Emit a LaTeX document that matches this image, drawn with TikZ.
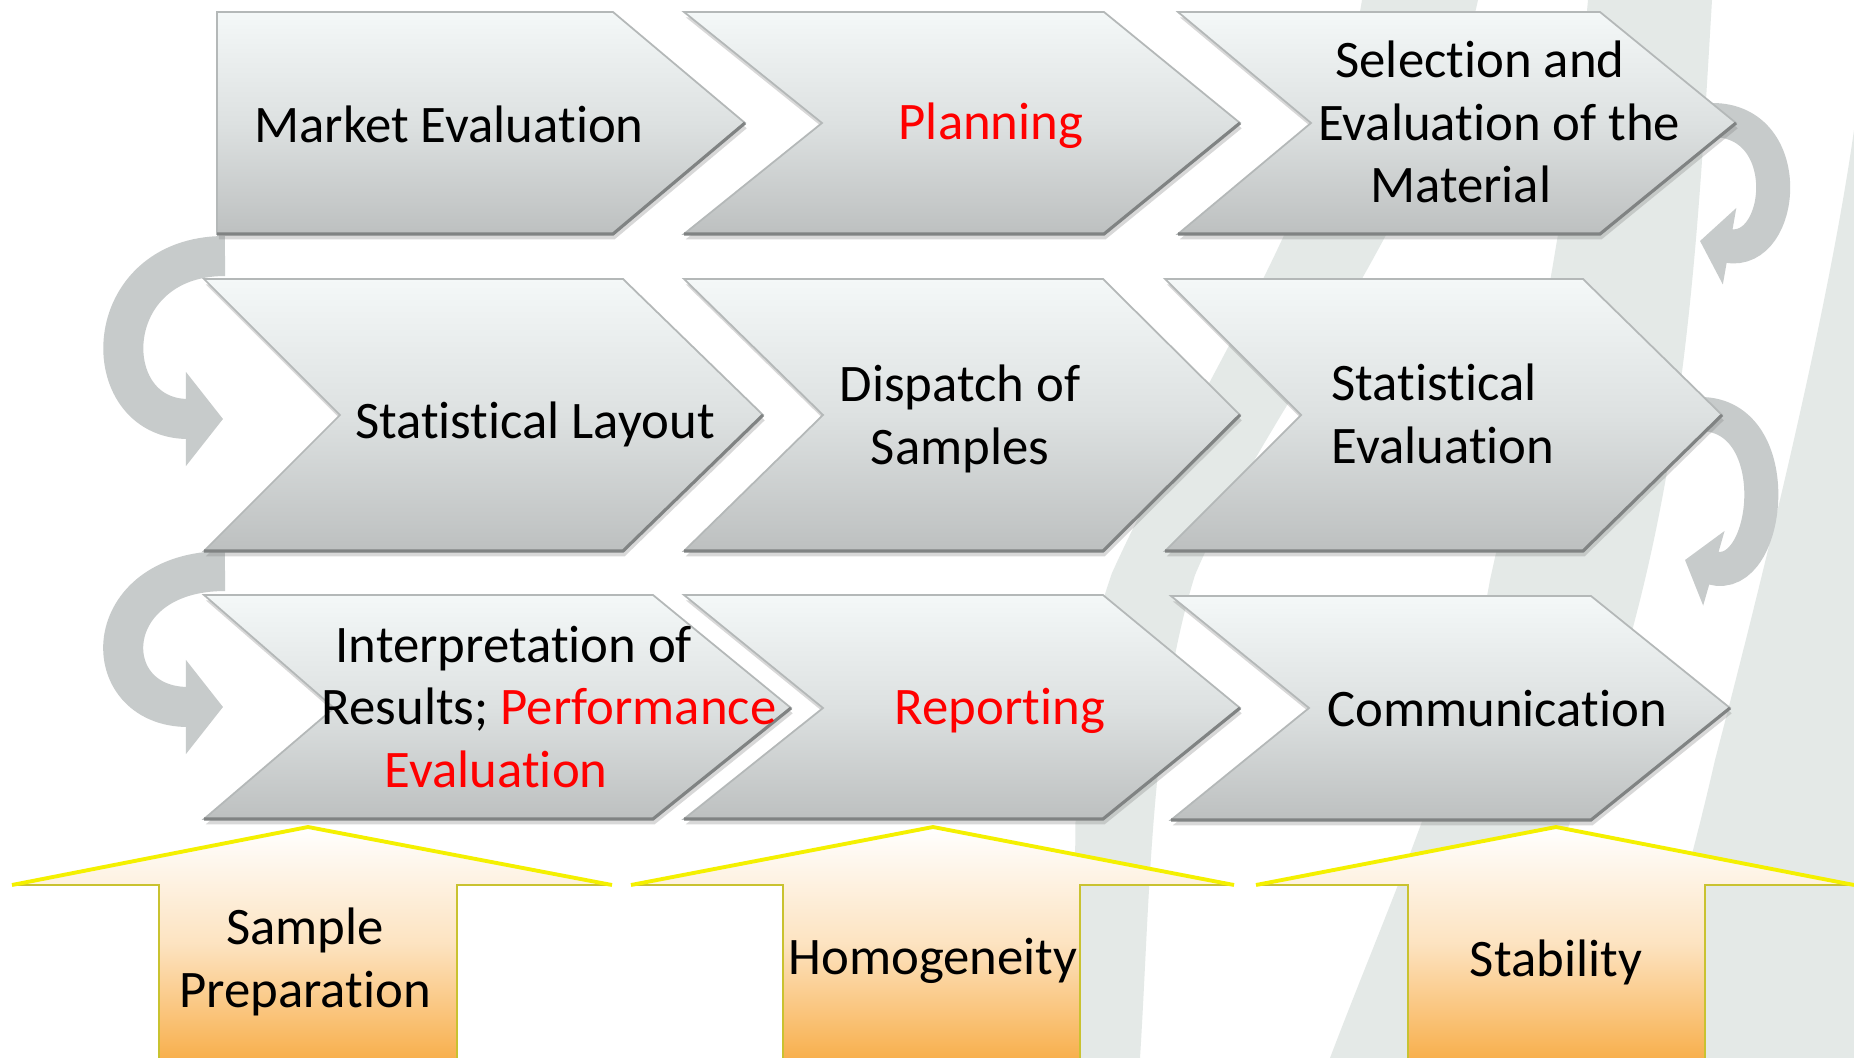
\documentclass[tikz,border=0pt]{standalone}
\usepackage{fontspec}
\setmainfont{Carlito}[Ligatures=NoCommon]
\usetikzlibrary{arrows.meta,shadows}

\definecolor{boxtop}{HTML}{F4F8F8}
\definecolor{boxmid}{HTML}{DDE1E1}
\definecolor{boxbot}{HTML}{BDC0C0}
\definecolor{boxline}{HTML}{B4B8B8}
\definecolor{boxsole}{HTML}{808383}
\definecolor{swoosh}{HTML}{E4E9E7}
\definecolor{turngray}{HTML}{C7CBCB}
\definecolor{peach}{HTML}{F8B04E}
\definecolor{rimyellow}{HTML}{F4F000}
\definecolor{rimolive}{HTML}{C9C230}

\tikzset{
  chev/.style={top color=boxtop, bottom color=boxbot, middle color=boxmid,
    draw=boxline, line width=0.5pt,
    drop shadow={opacity=0.3, shadow xshift=0.5pt, shadow yshift=-1.5pt}},
  sole/.style={draw=boxsole, line width=0.9pt},
  turnleft/.style={draw=turngray, line width=0.4cm,
    -{Triangle[length=0.37cm,width=0.92cm]}},
  turnright/.style={draw=turngray, line width=0.34cm,
    -{Triangle[length=0.3cm,width=0.76cm]}},
  pillar/.style={top color=white, bottom color=peach, middle color=peach!35},
  rim/.style={draw=rimyellow, line width=1.1pt, line join=miter},
  rimside/.style={draw=rimolive, line width=0.8pt, line join=miter},
  lbl/.style={font=\fontsize{15}{17.8}\selectfont, align=center, inner sep=0pt},
}

\begin{document}
\begin{tikzpicture}[x=0.01cm,y=-0.01cm]

\useasboundingbox (0,0) rectangle (1854,1058);
\fill[white] (0,0) rectangle (1854,1058);

%background swooshes
\fill[swoosh] (1362,0) -- (1478,0) .. controls (1430,220) and (1260,420) .. (1195,575)
  .. controls (1150,720) and (1150,900) .. (1140,1058) -- (1075,1058)
  .. controls (1080,880) and (1060,720) .. (1112,573)
  .. controls (1190,400) and (1330,200) .. (1362,0) -- cycle;
\fill[swoosh] (1588,0) -- (1712,0) .. controls (1700,200) and (1690,400) .. (1640,600)
  .. controls (1590,800) and (1520,950) .. (1460,1058) -- (1330,1058)
  .. controls (1390,900) and (1460,750) .. (1490,580)
  .. controls (1530,400) and (1570,200) .. (1588,0) -- cycle;
\fill[swoosh] (1854,130) .. controls (1830,300) and (1770,550) .. (1715,760)
  .. controls (1690,870) and (1660,970) .. (1635,1058) -- (1854,1058) -- cycle;

%ends of the turning arrows
\coordinate (A-out) at (225,256);
\coordinate (D-in) at (223,419);
\coordinate (D-out) at (225,571);
\coordinate (G-in) at (223,707);
\coordinate (C-out) at (1712,120);
\coordinate (F-in) at (1700,241);
\coordinate (F-out) at (1700,414);
\coordinate (I-in) at (1685,560);

%turning arrows
\draw[turnleft] (A-out) to[out=180,in=180,looseness=2] (D-in);
\draw[turnleft] (D-out) to[out=180,in=180,looseness=2.4] (G-in);
\draw[turnright] (C-out) to[out=0,in=-10,looseness=1.8] (F-in);
\draw[turnright] (F-out) to[out=0,in=-16,looseness=1.55] (I-in);

%first row
\path[chev] (217,12) -- (613,12) -- (745,123) -- (613,234) -- (217,234) -- cycle;
\path[chev] (684,12) -- (1104,12) -- (1240,123) -- (1104,234) -- (684,234) -- (822,123) -- cycle;
\path[chev] (1178,12) -- (1600,12) -- (1736,123) -- (1600,234) -- (1178,234) -- (1311,123) -- cycle;
\draw[sole] (217,234) -- (613,234) -- (745,123);
\draw[sole] (684,234) -- (1104,234) -- (1240,123);
\draw[sole] (1178,234) -- (1600,234) -- (1736,123);

%second row
\path[chev] (204,279) -- (623,279) -- (763,415) -- (623,551) -- (204,551) -- (340,415) -- cycle;
\path[chev] (684,279) -- (1103,279) -- (1240,415) -- (1103,551) -- (684,551) -- (823,415) -- cycle;
\path[chev] (1165,279) -- (1583,279) -- (1722,415) -- (1583,551) -- (1165,551) -- (1301,415) -- cycle;
\draw[sole] (204,551) -- (623,551) -- (763,415);
\draw[sole] (684,551) -- (1103,551) -- (1240,415);
\draw[sole] (1165,551) -- (1583,551) -- (1722,415);

%third row
\path[chev] (204,595) -- (653,595) -- (791,708) -- (653,819) -- (204,819) -- (334,708) -- cycle;
\path[chev] (684,595) -- (1103,595) -- (1240,708) -- (1103,819) -- (684,819) -- (823,708) -- cycle;
\path[chev] (1171,596) -- (1591,596) -- (1730,708) -- (1591,820) -- (1171,820) -- (1309,708) -- cycle;
\draw[sole] (204,819) -- (653,819) -- (791,708);
\draw[sole] (684,819) -- (1103,819) -- (1240,708);
\draw[sole] (1171,820) -- (1591,820) -- (1730,708);

%labels
\node[lbl, anchor=base] (mkt) at (449,143) {Market Evaluation};
\node[lbl, anchor=base] (plan) at (991,140) {\textcolor{red}{Planning}};
\node[lbl] (sel) at (1480,122) {Selection and\\\hspace*{11pt}Evaluation of the\\Material\hspace*{11pt}};
\node[lbl, anchor=base] (lay) at (535,439) {Statistical Layout};
\node[lbl] (disp) at (960,419) {Dispatch of\\Samples};
\node[lbl, align=left] (stat) at (1443,414) {Statistical\\Evaluation};
\node[lbl] (interp) at (549,707) {Interpretation of\hspace*{20pt}\\Results; \textcolor{red}{Performance}\\\textcolor{red}{Evaluation}\hspace*{30pt}};
\node[lbl, anchor=base] (rep) at (1000,725) {\textcolor{red}{Reporting}};
\node[lbl, anchor=base] (comm) at (1497,726) {Communication};

%pillars
\shade[pillar] (159,1058) -- (159,885) -- (12,885) -- (308,827) -- (612,885) -- (457,885) -- (457,1058) -- cycle;
\draw[rimside] (159,1058) -- (159,885) -- (12,885);
\draw[rimside] (612,885) -- (457,885) -- (457,1058);
\draw[rim] (12,885) -- (308,827) -- (612,885);
\shade[pillar] (783,1058) -- (783,885) -- (631,885) -- (933,827) -- (1234,885) -- (1080,885) -- (1080,1058) -- cycle;
\draw[rimside] (783,1058) -- (783,885) -- (631,885);
\draw[rimside] (1234,885) -- (1080,885) -- (1080,1058);
\draw[rim] (631,885) -- (933,827) -- (1234,885);
\shade[pillar] (1408,1058) -- (1408,885) -- (1256,885) -- (1556,827) -- (1854,885) -- (1705,885) -- (1705,1058) -- cycle;
\draw[rimside] (1408,1058) -- (1408,885) -- (1256,885);
\draw[rimside] (1854,885) -- (1705,885) -- (1705,1058);
\draw[rim] (1256,885) -- (1556,827) -- (1854,885);

\node[lbl] (prep) at (305,962) {Sample\\Preparation};
\node[lbl, anchor=base] (homog) at (933,974) {Homogeneity};
\node[lbl, anchor=base] (stab) at (1556,976) {Stability};

\end{tikzpicture}
\end{document}
